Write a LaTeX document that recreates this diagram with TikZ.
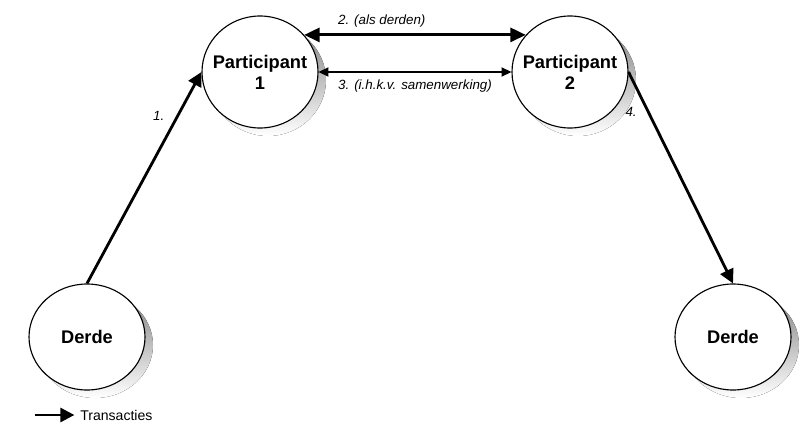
\documentclass[tikz,border=0pt]{standalone}
\usepackage{fontspec}
\setmainfont{Liberation Sans}
\usetikzlibrary{shapes.geometric,arrows.meta}

\definecolor{shade}{RGB}{150,150,150}
\tikzset{
  party/.style={ellipse,draw,thick,fill=white,minimum width=2.9cm,minimum height=2.8cm},
  partytext/.style={font=\bfseries\fontsize{13}{15}\selectfont,align=center},
  deal/.style={line width=2pt,-{Triangle[length=10pt,width=10pt]}},
  lbl/.style={font=\itshape\fontsize{9.5}{11}\selectfont}
}

\begin{document}
\begin{tikzpicture}
  \useasboundingbox (0,0) rectangle (20,10.7);
  % shadows
  \foreach \x/\y/\h in {6.5/8.9/1.4,14.25/8.9/1.4,2.175/2.275/1.325,18.325/2.275/1.325}
    \fill[shade] (\x+0.2,\y-0.2) ellipse [x radius=1.45cm,y radius=\h cm];
  % the four parties
  \node[party] (p1) at (6.5,8.9) {};
  \node[party] (p2) at (14.25,8.9) {};
  \node[party,minimum height=2.65cm] (d1) at (2.175,2.275) {};
  \node[party,minimum height=2.65cm] (d2) at (18.325,2.275) {};
  \node[partytext] at (p1) {Participant\\1};
  \node[partytext] at (p2) {Participant\\2};
  \node[partytext] at (d1) {Derde};
  \node[partytext] at (d2) {Derde};
  % transactions
  \draw[deal] (d1.north) -- node[pos=0.79,left=5pt,lbl] {1.} (p1.west);
  \draw[line width=2pt,{Triangle[length=11pt,width=10pt]}-{Triangle[length=11pt,width=10pt]}]
    (p1.40) -- node[pos=0.35,above=1pt,lbl] {2. (als derden)} (p2.140);
  \draw[line width=1pt,{Triangle[length=7pt,width=6.5pt]}-{Triangle[length=7pt,width=6.5pt]}]
    (p1.east) -- node[below=2pt,lbl] {3. (i.h.k.v. samenwerking)} (p2.west);
  \draw[deal] (p2.east) -- node[pos=0.19,left=4pt,lbl] {4.} (d2.north);
  % legend
  \coordinate (legA) at (0.875,0.325);
  \node[right,inner sep=0pt,font=\fontsize{10}{12}\selectfont] (legtxt) at (2.0,0.325) {Transacties};
  \draw[deal] (legA) -- ([xshift=-4pt]legtxt.west);
\end{tikzpicture}
\end{document}
